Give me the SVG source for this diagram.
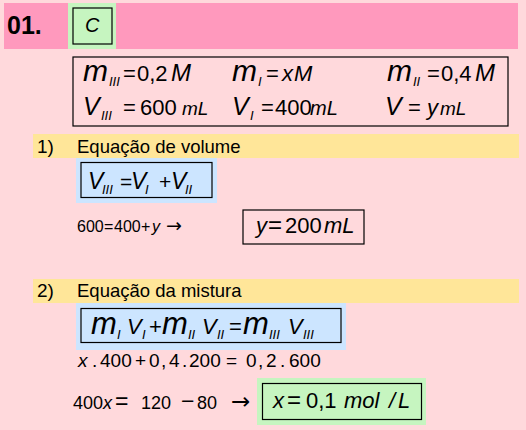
<svg xmlns="http://www.w3.org/2000/svg" width="526" height="430" viewBox="0 0 526 430">
<style>
text{font-family:"Liberation Sans",Arial,"DejaVu Sans",sans-serif;fill:#000}
.i{font-style:italic}
.b{font-weight:bold}
.ar{font-family:"DejaVu Sans",sans-serif}
.box{fill:none;stroke:#000;stroke-width:1.2}
.yel{fill:#FFE699}
.blu{fill:#CCE5FF}
.grn{fill:#C6F5C0}
</style>
<rect x="0" y="0" width="526" height="430" fill="#FFD9DC"/>
<g id="header">
<rect x="4" y="3" width="514" height="46" fill="#FF99BD"/>
<text x="7" y="34" font-size="25" class="b">01.</text>
</g>
<g id="answer">
<rect x="68" y="3" width="48" height="46" class="grn"/>
<rect x="73" y="8" width="39" height="36" class="box"/>
<text x="85" y="32" font-size="20" class="i">C</text>
</g>
<g id="data">
<rect x="73" y="57" width="435" height="69" class="box"/>
<text font-size="22">
<tspan class="i" x="83" y="81" font-size="30">m</tspan><tspan class="i" x="109" y="86" font-size="13">III</tspan><tspan x="123" y="81">=</tspan><tspan x="137" y="81">0,2</tspan><tspan class="i" x="171" y="81" font-size="24">M</tspan>
<tspan class="i" x="232" y="81" font-size="30">m</tspan><tspan class="i" x="258" y="86" font-size="13">I</tspan><tspan x="266" y="81">=</tspan><tspan class="i" x="282" y="81">x</tspan><tspan class="i" x="294" y="81">M</tspan>
<tspan class="i" x="387" y="81" font-size="30">m</tspan><tspan class="i" x="413" y="86" font-size="13">II</tspan><tspan x="427" y="81">=</tspan><tspan x="441" y="81">0,4</tspan><tspan class="i" x="475" y="81" font-size="24">M</tspan>
</text>
<text font-size="22">
<tspan class="i" x="83" y="115" font-size="25">V</tspan><tspan class="i" x="101" y="120" font-size="13">III</tspan><tspan x="123" y="115">=</tspan><tspan x="140" y="115">600</tspan><tspan class="i" x="182" y="115" font-size="19">mL</tspan>
<tspan class="i" x="232" y="115" font-size="25">V</tspan><tspan class="i" x="250" y="120" font-size="13">I</tspan><tspan x="261" y="115">=</tspan><tspan x="275" y="115">400</tspan><tspan class="i" x="310" y="115" font-size="20">mL</tspan>
<tspan class="i" x="385" y="115" font-size="25">V</tspan><tspan x="408" y="115">=</tspan><tspan class="i" x="427" y="115">y</tspan><tspan class="i" x="440" y="115" font-size="19">mL</tspan>
</text>
</g>
<g id="step1">
<rect x="33" y="134" width="486" height="24" class="yel"/>
<text x="37" y="153" font-size="19">1)</text>
<text x="77" y="153" font-size="18.5">Equação de volume</text>
</g>
<g id="formula1">
<rect x="76" y="158" width="141" height="45" class="blu"/>
<rect x="81" y="162.5" width="131" height="35" class="box"/>
<text font-size="21">
<tspan class="i" x="88" y="189" font-size="23">V</tspan><tspan class="i" x="102" y="194" font-size="13">III</tspan><tspan x="120" y="189">=</tspan><tspan class="i" x="131" y="189" font-size="23">V</tspan><tspan class="i" x="145" y="194" font-size="13">I</tspan><tspan x="159" y="189">+</tspan><tspan class="i" x="171" y="189" font-size="23">V</tspan><tspan class="i" x="185" y="194" font-size="13">II</tspan>
</text>
</g>
<g id="calc1">
<text font-size="16">
<tspan x="77" y="232">600</tspan><tspan x="104" y="232">=</tspan><tspan x="114" y="232">400</tspan><tspan x="141" y="232">+</tspan><tspan class="i" x="152" y="232">y</tspan><tspan class="ar" x="166" y="232" font-size="19">→</tspan>
</text>
</g>
<g id="result1">
<rect x="243" y="210" width="121" height="34" class="box"/>
<text font-size="22">
<tspan class="i" x="256" y="233">y</tspan><tspan x="268" y="233" font-size="24">=</tspan><tspan x="285" y="233">200</tspan><tspan class="i" x="324" y="233">mL</tspan>
</text>
</g>
<g id="step2">
<rect x="33" y="279" width="486" height="24" class="yel"/>
<text x="37" y="297" font-size="19">2)</text>
<text x="77" y="297" font-size="18.5">Equação da mistura</text>
</g>
<g id="formula2">
<rect x="76" y="303" width="270" height="47" class="blu"/>
<rect x="81" y="308.5" width="260" height="34" class="box"/>
<text font-size="22">
<tspan class="i" x="91" y="334" font-size="31">m</tspan><tspan class="i" x="117" y="339" font-size="13">I</tspan><tspan class="i" x="127" y="334">V</tspan><tspan class="i" x="142" y="339" font-size="13">I</tspan><tspan x="149" y="334">+</tspan><tspan class="i" x="162" y="334" font-size="31">m</tspan><tspan class="i" x="188" y="339" font-size="13">II</tspan><tspan class="i" x="202" y="334">V</tspan><tspan class="i" x="217" y="339" font-size="13">II</tspan><tspan x="229" y="334">=</tspan><tspan class="i" x="243" y="334" font-size="31">m</tspan><tspan class="i" x="269" y="339" font-size="13">III</tspan><tspan class="i" x="288" y="334">V</tspan><tspan class="i" x="303" y="339" font-size="13">III</tspan>
</text>
</g>
<g id="calc2">
<text font-size="19">
<tspan class="i" x="78" y="367">x</tspan><tspan x="92" y="367">.</tspan><tspan x="100" y="367">400</tspan><tspan x="135" y="367">+</tspan><tspan x="149" y="367">0</tspan><tspan x="161" y="367">,</tspan><tspan x="169" y="367">4</tspan><tspan x="182" y="367">.</tspan><tspan x="189" y="367">200</tspan><tspan x="226" y="367">=</tspan><tspan x="246" y="367">0</tspan><tspan x="258" y="367">,</tspan><tspan x="266" y="367">2</tspan><tspan x="280" y="367">.</tspan><tspan x="289" y="367">600</tspan>
</text>
<text font-size="18">
<tspan x="73" y="409">400</tspan><tspan class="i" x="103" y="409">x</tspan><tspan x="115" y="409" font-size="23">=</tspan><tspan x="141" y="409">120</tspan><tspan x="181" y="409" font-size="23">−</tspan><tspan x="197" y="409">80</tspan><tspan class="ar" x="231" y="409" font-size="23">→</tspan>
</text>
</g>
<g id="result2">
<rect x="257" y="378" width="169" height="47" class="grn"/>
<rect x="262.5" y="383.5" width="159" height="36" class="box"/>
<text font-size="22">
<tspan class="i" x="273" y="408">x</tspan><tspan x="287" y="408" font-size="24">=</tspan><tspan x="306" y="408">0,1</tspan><tspan class="i" x="344" y="408">mol</tspan><tspan class="i" x="389" y="408">/</tspan><tspan class="i" x="398" y="408">L</tspan>
</text>
</g>
</svg>
